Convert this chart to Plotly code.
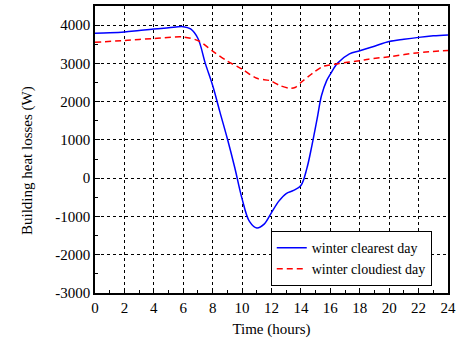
import plotly.graph_objects as go

hours_clear = [0, 1, 2, 3, 4, 5, 6, 6.5, 7.0, 7.5, 8.0, 8.5, 9.0, 9.5, 10.0, 10.5, 11.0, 11.5, 12.0,
               12.5, 13.0, 13.5, 14.0, 14.4, 14.75, 15.1, 15.4, 15.75, 16.0, 16.5, 17.3, 18.0, 19.0,
               20, 21, 22, 23, 24]
clearest = [3790, 3800, 3820, 3860, 3900, 3930, 3960, 3900, 3650, 3000, 2420, 1720, 1030, 280, -540,
            -1130, -1300, -1200, -900,
            -600, -400, -320, -190, 250, 860, 1550, 2160, 2550, 2720, 3010, 3250, 3330, 3450,
            3570, 3630, 3680, 3720, 3745]

hours_cloud = [0, 2, 4, 6, 7.1, 8.0, 9.0, 10.0, 11.0, 11.9, 12.58, 13.25, 13.6, 14.0, 14.85, 15.5,
               16.0, 16.6, 18.0, 18.6, 20, 22, 24]
cloudiest = [3550, 3600, 3650, 3690, 3580, 3320, 3060, 2850, 2610, 2550, 2420, 2350, 2370, 2500, 2760,
             2920, 2960, 3000, 3070, 3110, 3175, 3280, 3340]

x_ticks = list(range(0, 25, 2))
y_ticks = list(range(-3000, 4001, 1000))
y_tick_text = [str(v) for v in y_ticks]

FONT = "Liberation Serif"

fig = go.Figure()
fig.add_trace(go.Scatter(x=hours_clear, y=clearest, mode="lines", name="winter clearest day",
                         line=dict(color="#0000ff", width=1.5, shape="spline", smoothing=1.0)))
fig.add_trace(go.Scatter(x=hours_cloud, y=cloudiest, mode="lines", name="winter cloudiest day",
                         line=dict(color="#ff0000", width=1.5, dash="6px,4px", shape="spline", smoothing=0.8)))

axis_common = dict(
    showline=True, linecolor="black", linewidth=1.5, mirror=True,
    ticks="inside", ticklen=5, tickcolor="black", tickwidth=1,
    showgrid=True, gridcolor="black", gridwidth=1, griddash="dot",
    zeroline=False, automargin=False,
    tickfont=dict(family=FONT, size=15, color="black"),
)

fig.update_layout(
    width=467, height=344,
    margin=dict(l=95, r=19, t=6, b=51),
    paper_bgcolor="white", plot_bgcolor="white",
    font=dict(family=FONT, size=15, color="black"),
    xaxis=dict(range=[0, 24], tickvals=x_ticks,
               minor=dict(dtick=1, tick0=0, ticks="inside", ticklen=3, tickcolor="black", showgrid=False),
               title=dict(text="Time (hours)", font=dict(family=FONT, size=15), standoff=9),
               **axis_common),
    yaxis=dict(range=[-3000, 4500], tickvals=y_ticks, ticktext=y_tick_text,
               minor=dict(dtick=500, tick0=0, ticks="inside", ticklen=3, tickcolor="black", showgrid=False),
               **axis_common),
    legend=dict(x=0.954, y=0.12, xanchor="right", yanchor="middle",
                bgcolor="white", bordercolor="black", borderwidth=1,
                font=dict(family=FONT, size=14, color="black"),
                tracegroupgap=0, itemwidth=30),
    showlegend=True,
    annotations=[dict(text="Building heat losses (W)", textangle=-90, showarrow=False,
                      xref="paper", yref="paper", x=-0.193, y=0.463,
                      xanchor="center", yanchor="middle",
                      font=dict(family=FONT, size=15, color="black"))],
)

fig.write_html("out.html", config={"displayModeBar": False},
               post_script="document.body.style.margin='0';")
